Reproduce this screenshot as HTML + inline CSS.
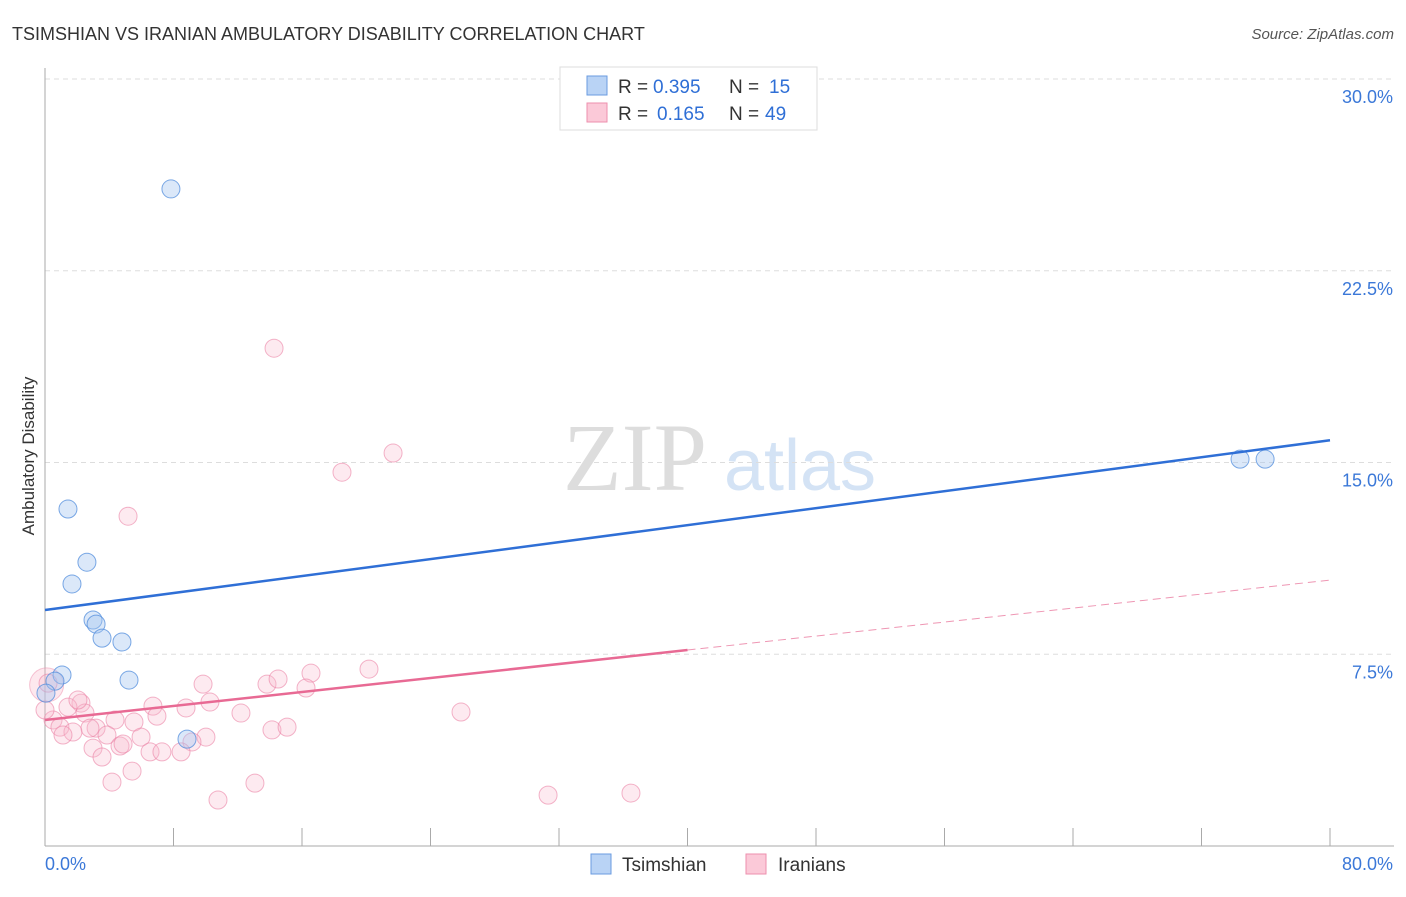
<!DOCTYPE html>
<html><head><meta charset="utf-8"><style>
body{margin:0;background:#fff;font-family:"Liberation Sans",sans-serif}
</style></head><body>
<svg id="c" width="1406" height="892" xmlns="http://www.w3.org/2000/svg">
<text x="12" y="40" font-size="18" fill="#333">TSIMSHIAN VS IRANIAN AMBULATORY DISABILITY CORRELATION CHART</text>
<text x="1394" y="39" font-size="15" fill="#555" font-style="italic" text-anchor="end">Source: ZipAtlas.com</text>
<text x="34" y="456" font-size="17" fill="#333" text-anchor="middle" transform="rotate(-90 34 456)">Ambulatory Disability</text>
<g><text x="635" y="490" font-size="96" fill="#ddd" font-family="Liberation Serif,serif" text-anchor="middle">ZIP</text><text x="800" y="490" font-size="72" fill="#d4e3f5" text-anchor="middle">atlas</text></g>
<g id="grid"></g><g id="axes"></g><g id="marks"></g>
<g>
<rect x="560" y="67" width="257" height="63" fill="#fff" stroke="#ddd"/>
<rect x="587" y="76" width="20" height="19" fill="#b9d3f5" stroke="#6a9be0"/>
<rect x="587" y="103" width="20" height="19" fill="#fbc9d8" stroke="#ee8fae"/>
<text x="618" y="93" font-size="19" fill="#333">R =</text><text x="653" y="93" font-size="19" fill="#2f6fd6">0.395</text>
<text x="729" y="93" font-size="19" fill="#333">N =</text><text x="769" y="93" font-size="19" fill="#2f6fd6">15</text>
<text x="618" y="120" font-size="19" fill="#333">R =</text><text x="657" y="120" font-size="19" fill="#2f6fd6">0.165</text>
<text x="729" y="120" font-size="19" fill="#333">N =</text><text x="765" y="120" font-size="19" fill="#2f6fd6">49</text>
</g>
<g>
<rect x="591" y="854" width="20" height="20" fill="#b9d3f5" stroke="#6a9be0"/>
<text x="622" y="871" font-size="19" fill="#333">Tsimshian</text>
<rect x="746" y="854" width="20" height="20" fill="#fbc9d8" stroke="#ee8fae"/>
<text x="778" y="871" font-size="19" fill="#333">Iranians</text>
</g>
</svg>
<script>
const yTicks=[7.5,15,22.5,30];
const yTickLabels=["7.5%","15.0%","22.5%","30.0%"];
const xTicks=[0,8,16,24,32,40,48,56,64,72,80];
const tsimX=[7.84,1.43,2.61,1.68,2.99,3.18,3.55,4.79,1.06,0.62,0.06,5.23,8.84,74.4,75.96];
const tsimY=[25.7,13.18,11.1,10.25,8.84,8.68,8.13,7.98,6.69,6.45,5.98,6.49,4.18,15.13,15.13];
const iranX=[5.17,0.19,9.84,13.82,14.51,16.56,16.25,20.17,10.27,8.78,6.72,6.97,2.24,1.43,2.49,12.2,25.9,0.5,0.93,4.36,5.54,3.18,2.8,1.74,1.12,3.86,14.13,15.07,5.98,10.02,9.15,4.67,4.86,2.99,6.54,7.28,8.47,3.55,5.42,4.17,13.07,10.77,14.26,18.49,21.67,31.32,36.48,0,2.05];
const iranY=[12.9,6.37,6.33,6.33,6.53,6.76,6.18,6.92,5.63,5.4,5.47,5.08,5.59,5.43,5.2,5.2,5.24,4.93,4.65,4.93,4.85,4.61,4.61,4.46,4.34,4.34,4.54,4.65,4.26,4.26,4.07,3.91,3.99,3.83,3.68,3.68,3.68,3.48,2.93,2.5,2.46,1.8,19.47,14.62,15.37,1.99,2.07,5.32,5.71];
const tsimTrend=[9.23,15.87];
const iranTrend=[4.93,10.4];
const iranSolidEnd=40;
const X=v=>45+v/80*1285, Y=v=>846-v/30*767;
const NS="http://www.w3.org/2000/svg";
function mk(p,t,a){const e=document.createElementNS(NS,t);for(const k in a)e.setAttribute(k,a[k]);document.getElementById(p).appendChild(e);return e;}
yTicks.forEach((t,i)=>{
 const g=mk('grid','line',{x1:45,x2:1394,y1:Y(t),y2:Y(t),stroke:'#ddd','stroke-dasharray':'5,4'});
 
 
 const l=mk('grid','text',{x:1393,y:Y(t)+24,'font-size':18,fill:'#3b78d8','text-anchor':'end'});l.textContent=yTickLabels[i];
 
 
});
const ax=mk('axes','line',{x1:45,x2:45,y1:68,y2:846,stroke:'#aaa'});


const bx=mk('axes','line',{x1:45,x2:1394,y1:846,y2:846,stroke:'#aaa'});


xTicks.forEach(t=>{const e=mk('axes','line',{x1:X(t),x2:X(t),y1:828,y2:846,stroke:'#aaa'});
 
 });
const l0=mk('axes','text',{x:45,y:870,'font-size':18,fill:'#3b78d8'});l0.textContent='0.0%';


const l1=mk('axes','text',{x:1393,y:870,'font-size':18,fill:'#3b78d8','text-anchor':'end'});l1.textContent='80.0%';


const big=mk('marks','circle',{cx:X(0.1),cy:Y(6.3),r:17,fill:'rgba(248,180,200,0.3)',stroke:'rgba(235,130,165,0.45)'});


iranX.forEach((x,i)=>{const c=mk('marks','circle',{cx:X(x),cy:Y(iranY[i]),r:9,fill:'rgba(248,185,205,0.3)',stroke:'rgba(235,130,165,0.6)'});
 
 });
tsimX.forEach((x,i)=>{const c=mk('marks','circle',{cx:X(x),cy:Y(tsimY[i]),r:9,fill:'rgba(165,198,240,0.4)',stroke:'rgba(80,140,220,0.75)'});
 
 });
const tl=mk('marks','line',{x1:X(0),y1:Y(tsimTrend[0]),x2:X(80),y2:Y(tsimTrend[1]),stroke:'#2f6fd6','stroke-width':2.5});


const ym=iranTrend[0]+(iranTrend[1]-iranTrend[0])*iranSolidEnd/80;
const il=mk('marks','line',{x1:X(0),y1:Y(iranTrend[0]),x2:X(iranSolidEnd),y2:Y(ym),stroke:'#e86a94','stroke-width':2.5});


const id=mk('marks','line',{x1:X(iranSolidEnd),y1:Y(ym),x2:X(80),y2:Y(iranTrend[1]),stroke:'#e86a94','stroke-width':1,'stroke-dasharray':'8,5',opacity:0.7});


</script>
</body></html>
